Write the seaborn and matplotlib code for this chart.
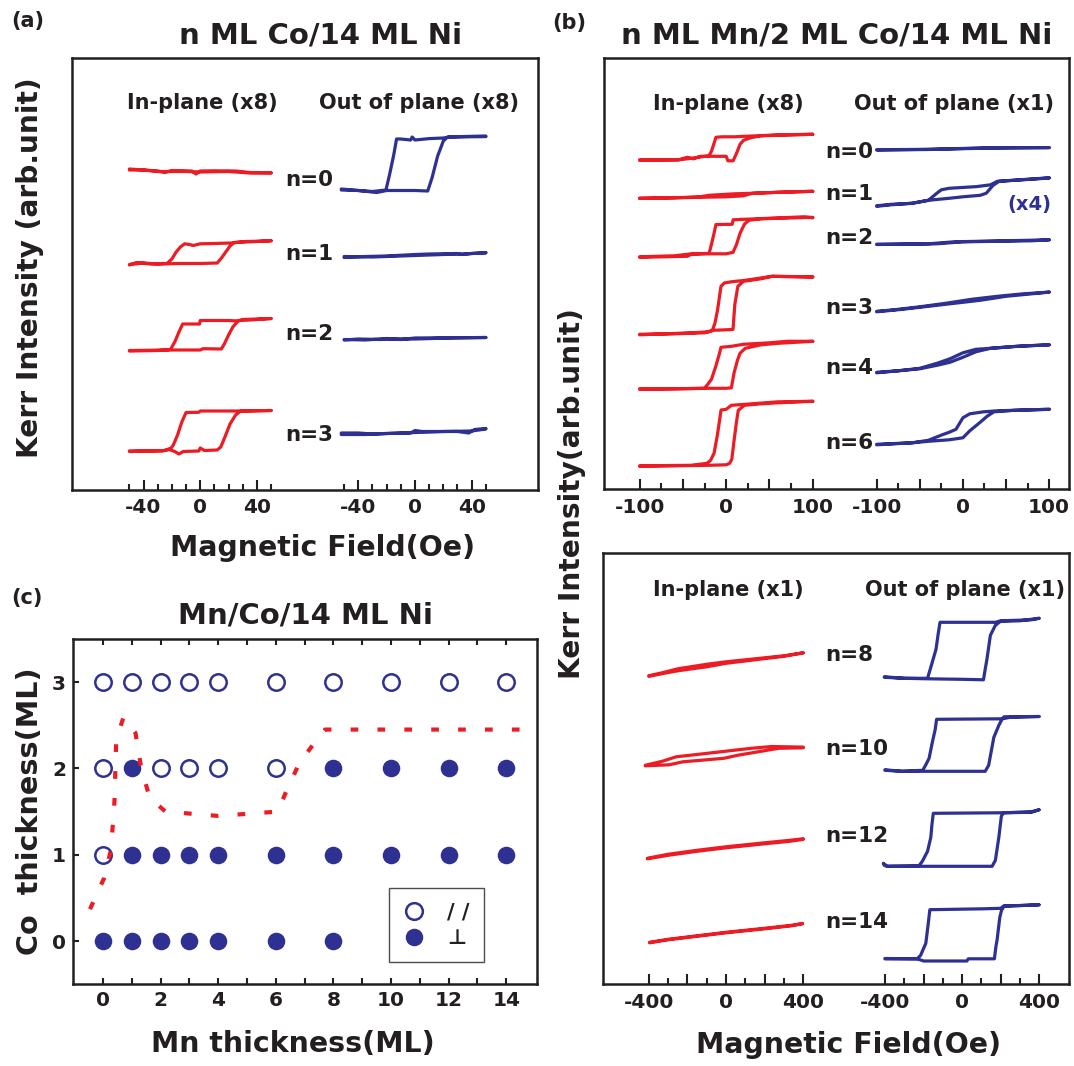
import matplotlib
matplotlib.use("Agg")
import matplotlib.pyplot as plt
import pandas as pd
import seaborn as sns
from matplotlib.lines import Line2D

sns.set_theme(style="white")
plt.rcParams["font.family"] = ["DejaVu Sans"]
plt.rcParams["font.weight"] = "bold"

RED = "#ED1C24"
BLUE = "#2E3192"
INK = "#231F20"

# ---------------- (a) n ML Co / 14 ML Ni : Kerr loops (field in Oe, Kerr in arb. units)
A_IN_N0 = [(50, 31.73), (35, 31.75), (25, 31.9), (10, 31.92), (0, 31.9), (-3, 31.6), (-6, 31.9),
           (-20, 31.95), (-25, 31.75), (-30, 31.9), (-45, 32.05), (-50, 32.1),
           (-50, 32.0), (-40, 32.0), (-30, 31.85), (-10, 31.85), (0, 31.8), (20, 31.85), (35, 31.7), (50, 31.7)]
A_IN_N1 = [(50, 24.9), (32, 24.85), (22, 24.7), (10, 24.65), (0, 24.62), (-5, 24.45), (-7.5, 24.55),
           (-11, 24.62), (-14, 24.3), (-17, 23.8), (-20, 23.1), (-23.5, 22.65), (-35, 22.6), (-45, 22.75), (-50, 22.5),
           (-50, 22.55), (-40, 22.7), (-30, 22.6), (-15, 22.65), (0, 22.65), (12, 22.7), (15, 23.2), (17.5, 23.7),
           (21, 24.4), (24, 24.75), (30, 24.8), (40, 24.85), (50, 24.95)]
A_IN_N2 = [(50, 17.15), (30, 17.05), (27, 16.9), (20, 16.95), (0, 16.95), (-0.5, 16.6), (-12.4, 16.6),
           (-15, 15.8), (-18, 14.8), (-21, 14.05), (-30, 13.95), (-50, 13.9),
           (-50, 13.95), (-20, 14.0), (0, 14.0), (2, 14.13), (14.9, 14.1), (17, 14.6), (20, 15.5), (23, 16.3),
           (27, 16.95), (35, 17.0), (50, 17.15)]
A_IN_N3 = [(50, 7.95), (30, 7.9), (0, 7.9), (-1, 7.77), (-10, 7.75), (-13, 6.8), (-16, 5.5), (-19, 4.5),
           (-20.5, 4.2), (-25, 3.95), (-50, 3.9),
           (-50, 3.85), (-27, 3.9), (-22, 4.05), (-18, 3.85), (-15, 3.6), (-12, 3.85), (-1, 3.9), (0, 4.2), (3, 3.95),
           (12, 4.0), (14.5, 4.3), (18, 5.5), (21, 6.6), (25, 7.5), (28.5, 7.9), (50, 7.95)]
A_OUT_N0 = [(50, 35.34), (25, 35.3), (20, 35.2), (10, 35.14), (0, 35.0), (-2, 35.3), (-3, 35.0), (-10, 35.1),
            (-13, 35.1), (-15, 33.5), (-18, 31.5), (-20.5, 30.0), (-30, 29.85), (-40, 29.95), (-52, 30.0),
            (-52, 30.1), (-40, 29.95), (-27, 29.75), (-20, 29.95), (0, 29.95), (9, 29.9), (12, 31.2), (16, 33.4),
            (20, 34.9), (23, 35.3), (35, 35.35), (50, 35.4)]
A_OUT_N1 = [(50, 23.7), (40, 23.65), (33, 23.55), (30, 23.65), (10, 23.6), (0, 23.55), (-20, 23.4), (-35, 23.35),
            (-50, 23.25), (-50, 23.35), (-30, 23.3), (-20, 23.35), (0, 23.45), (20, 23.55), (35, 23.6), (50, 23.75)]
A_OUT_N2 = [(50, 15.25), (30, 15.23), (0, 15.2), (-10, 15.05), (-20, 15.15), (-35, 15.0), (-50, 15.05),
            (-50, 15.0), (-40, 15.1), (-25, 15.05), (-15, 15.1), (0, 15.1), (25, 15.2), (50, 15.25)]
A_OUT_N3 = [(50, 6.15), (42, 6.05), (38, 5.7), (30, 5.85), (5, 5.85), (0, 5.95), (-3, 5.7), (-20, 5.65),
            (-35, 5.55), (-52, 5.55), (-52, 5.7), (-40, 5.7), (-30, 5.6), (-10, 5.7), (0, 5.75), (20, 5.85),
            (40, 5.9), (50, 6.1)]

# ---------------- (b) n ML Mn / 2 ML Co / 14 ML Ni, n = 0..6
B_IN_N0 = [(100, 35.5), (60, 35.45), (37, 35.35), (20, 35.3), (10, 35.25), (-5, 35.25), (-11.8, 35.2),
           (-14, 34.6), (-17, 33.8), (-20, 33.35), (-40, 33.1), (-55, 32.95), (-100, 32.9),
           (-100, 32.95), (-55, 32.95), (-45, 33.2), (-38, 33.05), (-30, 33.3), (0, 33.3), (2, 32.85), (8, 32.85),
           (12, 33.6), (16, 34.5), (20, 34.9), (28, 35.15), (40, 35.35), (100, 35.5)]
B_IN_N1 = [(100, 29.8), (60, 29.7), (30, 29.6), (10, 29.55), (-20, 29.4), (-30, 29.25), (-60, 29.15), (-100, 29.1),
           (-100, 29.1), (-60, 29.15), (-30, 29.2), (0, 29.25), (20, 29.35), (30, 29.6), (60, 29.7), (100, 29.8)]
B_IN_N2 = [(100, 27.15), (90, 27.25), (50, 27.1), (20, 27.0), (8, 26.95), (7, 26.5), (-11.8, 26.48),
           (-14, 25.6), (-17, 24.5), (-19.7, 23.6), (-40, 23.5), (-45, 23.3), (-100, 23.2),
           (-100, 23.25), (-60, 23.35), (-40, 23.55), (0, 23.55), (8, 23.7), (12, 24.5), (16, 25.6), (21, 26.5),
           (26, 26.9), (40, 27.05), (100, 27.2)]
B_IN_N3 = [(100, 21.22), (53, 21.3), (30, 21.0), (22, 20.9), (6, 20.75), (-2, 20.64), (-6, 20.3), (-10, 17.9),
           (-13, 16.6), (-16, 15.9), (-20, 15.75), (-40, 15.65), (-55, 15.6), (-100, 15.45),
           (-100, 15.5), (-60, 15.55), (-25, 15.65), (-15, 15.9), (0, 15.95), (7.9, 15.99), (10, 18.5),
           (13.5, 20.3), (20, 20.8), (40, 21.05), (53, 21.3), (100, 21.25)]
B_IN_N4 = [(100, 14.8), (70, 14.8), (50, 14.65), (20, 14.5), (6, 14.3), (-6, 14.2), (-8, 13.5), (-12, 12.3),
           (-17, 11.0), (-21.7, 10.45), (-25, 10.1), (-60, 10.05), (-100, 10.0),
           (-100, 10.05), (-60, 10.05), (-20, 10.1), (0, 10.1), (6, 10.15), (9, 11.6), (13, 12.9), (16, 13.6),
           (22, 14.1), (40, 14.45), (60, 14.6), (100, 14.8)]
B_IN_N6 = [(100, 8.8), (60, 8.75), (30, 8.55), (6, 8.4), (0, 8.0), (-5.9, 7.93), (-10, 5.5), (-14, 3.6),
           (-18, 2.9), (-22, 2.6), (-40, 2.4), (-100, 2.35),
           (-100, 2.3), (-60, 2.35), (-20, 2.4), (0, 2.45), (4, 2.6), (6.5, 3.0), (9, 4.8), (12, 6.8), (14, 7.9),
           (21, 8.4), (40, 8.55), (60, 8.65), (100, 8.8)]
B_OUT_N0 = [(100, 34.17), (30, 34.15), (-40, 34.0), (-100, 33.95),
            (-100, 33.93), (-40, 33.98), (30, 34.12), (100, 34.17)]
B_OUT_N1 = [(100, 31.13), (71, 30.96), (40, 30.8), (32, 30.45), (16, 30.27), (-16, 30.1), (-25, 29.95),
            (-31, 29.55), (-40, 28.9), (-59, 28.6), (-83, 28.45), (-100, 28.3),
            (-100, 28.35), (-83, 28.5), (-59, 28.6), (-40, 28.9), (-16, 29.1), (0, 29.25), (20, 29.4), (27, 29.6),
            (35, 30.4), (42, 30.8), (71, 30.98), (100, 31.15)]
B_OUT_N2 = [(100, 24.95), (75, 24.9), (-10, 24.75), (-40, 24.55), (-100, 24.5),
            (-100, 24.48), (-30, 24.55), (0, 24.75), (80, 24.85), (100, 24.95)]
B_OUT_N3 = [(100, 19.72), (70, 19.55), (40, 19.3), (10, 19.0), (-20, 18.6), (-50, 18.25), (-80, 17.95),
            (-100, 17.8), (-100, 17.75), (-70, 18.0), (-40, 18.3), (-10, 18.6), (20, 18.9), (50, 19.3),
            (80, 19.55), (100, 19.72)]
B_OUT_N4 = [(100, 14.45), (63, 14.3), (32, 14.1), (15, 14.0), (0, 13.65), (-15, 13.05), (-30, 12.6),
            (-50, 12.1), (-75, 11.85), (-100, 11.7),
            (-100, 11.65), (-75, 11.85), (-50, 12.05), (-30, 12.4), (-15, 12.7), (0, 13.2), (15, 13.75),
            (32, 14.1), (63, 14.3), (100, 14.45)]
B_OUT_N6 = [(100, 8.0), (40, 7.85), (24, 7.75), (8, 7.55), (0, 7.15), (-8, 6.0), (-16, 5.7), (-24, 5.45),
            (-40, 4.9), (-59, 4.65), (-100, 4.45),
            (-100, 4.5), (-59, 4.65), (-40, 4.8), (-16, 4.95), (0, 5.15), (8, 5.85), (20, 6.7), (28, 7.3),
            (36, 7.75), (60, 7.9), (100, 8.0)]

# ---------------- (b, lower) n = 8..14
C_IN_N8 = [(400, 33.15), (300, 32.85), (150, 32.55), (0, 32.25), (-100, 32.0), (-250, 31.55), (-320, 31.2),
           (-400, 30.85), (-400, 30.8), (-320, 31.1), (-250, 31.35), (-100, 31.75), (0, 32.1), (150, 32.45),
           (300, 32.8), (400, 33.15)]
C_IN_N10 = [(400, 23.72), (237, 23.78), (131, 23.6), (-28, 23.25), (-188, 22.9), (-258, 22.75), (-330, 22.3),
            (-418, 21.9), (-418, 21.85), (-294, 21.95), (-223, 22.25), (-11, 22.6), (60, 22.9), (166, 23.25),
            (273, 23.6), (400, 23.65)]
C_IN_N12 = [(400, 14.55), (330, 14.4), (200, 14.15), (100, 13.95), (0, 13.75), (-150, 13.4), (-300, 13.0),
            (-407, 12.6), (-407, 12.55), (-300, 12.9), (-150, 13.3), (0, 13.65), (100, 13.85), (200, 14.05),
            (330, 14.3), (400, 14.5)]
C_IN_N14 = [(396, 6.08), (340, 5.9), (200, 5.6), (100, 5.4), (0, 5.2), (-150, 4.85), (-300, 4.5), (-396, 4.2),
            (-396, 4.15), (-300, 4.45), (-150, 4.8), (0, 5.15), (100, 5.35), (200, 5.55), (340, 5.85), (396, 6.05)]
C_OUT_N8 = [(400, 36.6), (360, 36.45), (200, 36.35), (173, 36.2), (0, 36.2), (-115, 36.2), (-125, 35.0),
            (-136, 33.5), (-160, 31.9), (-180, 30.6), (-300, 30.6), (-405, 30.75),
            (-405, 30.7), (-300, 30.6), (-180, 30.55), (0, 30.5), (111, 30.45), (120, 31.5), (129, 32.5),
            (147, 34.9), (173, 35.9), (200, 36.3), (300, 36.35), (400, 36.6)]
C_OUT_N10 = [(400, 26.78), (218, 26.75), (209, 26.55), (-133, 26.5), (-140, 25.5), (-154, 24.3), (-172, 22.6),
             (-189, 21.95), (-205, 21.4), (-313, 21.3), (-402, 21.4),
             (-402, 21.45), (-313, 21.3), (-216, 21.3), (0, 21.3), (120, 21.3), (138, 21.9), (165, 24.7),
             (191, 25.9), (209, 26.55), (250, 26.7), (400, 26.78)]
C_OUT_N12 = [(400, 17.45), (360, 17.2), (191, 17.15), (-150, 17.1), (-157, 16.0), (-163, 14.7), (-180, 13.3),
             (-207, 12.3), (-225, 11.85), (-390, 11.8), (-410, 12.1),
             (-405, 11.9), (-390, 11.8), (-225, 11.8), (0, 11.8), (156, 11.8), (173, 12.4), (191, 14.7),
             (204, 16.8), (215, 17.15), (360, 17.25), (400, 17.45)]
C_OUT_N14 = [(400, 7.95), (300, 7.87), (218, 7.85), (200, 7.6), (111, 7.55), (-168, 7.46), (-178, 5.8),
             (-189, 4.1), (-216, 2.9), (-234, 2.55), (-320, 2.55), (-402, 2.55),
             (-402, 2.58), (-234, 2.55), (-200, 2.33), (25, 2.33), (32, 2.55), (168, 2.55), (176, 3.8),
             (182, 4.45), (196, 6.7), (205, 7.4), (218, 7.8), (300, 7.88), (400, 7.95)]

# ---------------- (c) phase diagram Mn/Co/14 ML Ni
PAR_MN = [0, 1, 2, 3, 4, 6, 8, 10, 12, 14, 0, 2, 3, 4, 6, 0]
PAR_CO = [3, 3, 3, 3, 3, 3, 3, 3, 3, 3, 2, 2, 2, 2, 2, 1]
PERP_MN = [1, 8, 10, 12, 14, 1, 2, 3, 4, 6, 8, 10, 12, 14, 0, 1, 2, 3, 4, 6, 8]
PERP_CO = [2, 2, 2, 2, 2, 1, 1, 1, 1, 1, 1, 1, 1, 1, 0, 0, 0, 0, 0, 0, 0]
BOUND_MN = [-0.45, 0.04, 0.28, 0.40, 0.46, 0.71, 1.13, 1.32, 1.62, 2.17, 4.0, 6.07, 6.37, 6.80, 7.41, 7.71, 14.7]
BOUND_CO = [0.37, 0.73, 1.06, 1.62, 2.33, 2.59, 2.41, 2.02, 1.66, 1.50, 1.45, 1.50, 1.74, 2.05, 2.33, 2.45, 2.45]

W, H = 1074, 1066
fig = plt.figure(figsize=(W / 100, H / 100), dpi=100)
fig.patch.set_facecolor("white")


def box(l, t, r, b):
    return [l / W, 1 - b / H, (r - l) / W, (b - t) / H]


def put(x, y, s, size, **kw):
    kw.setdefault("ha", "center")
    kw.setdefault("va", "center")
    kw.setdefault("color", INK)
    fig.text(x / W, 1 - y / H, s, fontsize=size, fontweight="bold", **kw)


def loop_panel(rect, ymax, groups):
    frame = fig.add_axes(rect)
    frame.set_xlim(0, 1)
    frame.set_ylim(0, ymax)
    frame.set_xticks([])
    frame.set_yticks([])
    for sp in frame.spines.values():
        sp.set_visible(True)
        sp.set_linewidth(1.8)
        sp.set_color(INK)
    for xlim, major, labels, minor, loops, color in groups:
        ax = fig.add_axes(rect)
        ax.patch.set_alpha(0)
        for sp in ax.spines.values():
            sp.set_visible(False)
        for pts in loops:
            df = pd.DataFrame(pts, columns=["field", "kerr"])
            sns.lineplot(data=df, x="field", y="kerr", sort=False, estimator=None,
                         color=color, lw=2.3, ax=ax)
        ax.set_xlim(*xlim)
        ax.set_ylim(0, ymax)
        ax.set_yticks([])
        ax.set_xticks(major)
        ax.set_xticklabels(labels)
        ax.set_xticks(minor, minor=True)
        ax.tick_params(axis="x", which="both", direction="in", bottom=True, width=1.5,
                       color=INK, labelsize=14.5, labelcolor=INK, pad=6)
        ax.tick_params(axis="x", which="major", length=7)
        ax.tick_params(axis="x", which="minor", length=4)
        ax.set_xlabel("")
        ax.set_ylabel("")


# (a)
loop_panel(box(72, 58.3, 538, 490), 43.17, [
    ((-90.5, 238.4), [-40, 0, 40], ["-40", "0", "40"], [-50, -30, -20, -10, 10, 20, 30, 50],
     [A_IN_N0, A_IN_N1, A_IN_N2, A_IN_N3], RED),
    ((-242.0, 86.8), [-40, 0, 40], ["-40", "0", "40"], [-50, -30, -20, -10, 10, 20, 30, 50],
     [A_OUT_N0, A_OUT_N1, A_OUT_N2, A_OUT_N3], BLUE),
])

# (b) upper
loop_panel(box(603.8, 58.3, 1068.6, 489.3), 43.1, [
    ((-141.3, 395.4), [-100, -50, 0, 50, 100], ["-100", "", "0", "", "100"], [-75, -25, 25, 75],
     [B_IN_N0, B_IN_N1, B_IN_N2, B_IN_N3, B_IN_N4, B_IN_N6], RED),
    ((-416.1, 122.5), [-100, -50, 0, 50, 100], ["-100", "", "0", "", "100"], [-75, -25, 25, 75],
     [B_OUT_N0, B_OUT_N1, B_OUT_N2, B_OUT_N3, B_OUT_N4, B_OUT_N6], BLUE),
])

# (b) lower
loop_panel(box(603.3, 553.3, 1069, 984.3), 43.1, [
    ((-635.1, 1776.5), [-400, -200, 0, 200, 400], ["-400", "", "0", "", "400"], [-300, -100, 100, 300],
     [C_IN_N8, C_IN_N10, C_IN_N12, C_IN_N14], RED),
    ((-1867.2, 556.1), [-400, -200, 0, 200, 400], ["-400", "", "0", "", "400"], [-300, -100, 100, 300],
     [C_OUT_N8, C_OUT_N10, C_OUT_N12, C_OUT_N14], BLUE),
])

# (c)
axc = fig.add_axes(box(73, 638.9, 536.5, 984.3))
sns.scatterplot(x=PERP_MN, y=PERP_CO, s=160, color=BLUE, edgecolor=BLUE, linewidth=0, ax=axc, zorder=3)
sns.scatterplot(x=PAR_MN, y=PAR_CO, s=140, color="white", ax=axc, zorder=3)
opened = axc.collections[-1]
opened.set_facecolor("white")
opened.set_edgecolor(BLUE)
opened.set_linewidth(1.8)
sns.lineplot(x=BOUND_MN, y=BOUND_CO, sort=False, estimator=None, color=RED, lw=3, ax=axc, zorder=4)
axc.lines[-1].set_linestyle((0, (1.85, 4.6)))
axc.set_xlim(-1.04, 15.05)
axc.set_ylim(-0.5, 3.5)
axc.set_xticks(range(0, 15, 2))
axc.set_xticks(range(1, 15, 2), minor=True)
axc.set_yticks([0, 1, 2, 3])
axc.tick_params(axis="both", which="both", direction="in", length=4.5, width=1.5, color=INK,
                labelsize=14.5, labelcolor=INK, bottom=True, top=True, left=True, pad=5)
for sp in axc.spines.values():
    sp.set_visible(True)
    sp.set_linewidth(1.8)
    sp.set_color(INK)
axc.set_xlabel("")
axc.set_ylabel("")
handles = [Line2D([], [], ls="", marker="o", ms=12, mfc="white", mec=BLUE, mew=1.8),
           Line2D([], [], ls="", marker="o", ms=12.6, mfc=BLUE, mec=BLUE, mew=0)]
leg = axc.legend(handles, ["/ /", "\u22a5"], loc="upper left", bbox_to_anchor=(0.681, 0.2785),
                 borderaxespad=0, fontsize=15, frameon=True, fancybox=False, handlelength=1.0,
                 handletextpad=1.1, labelspacing=0.25, borderpad=0.7)
leg.get_frame().set_edgecolor(INK)
leg.get_frame().set_linewidth(1.0)
for t in leg.get_texts():
    t.set_color(INK)

# panel letters and titles
put(28, 21, "(a)", 15)
put(569, 23, "(b)", 15)
put(27, 598, "(c)", 15)
put(321, 35, "n ML Co/14 ML Ni", 21)
put(837, 35, "n ML Mn/2 ML Co/14 ML Ni", 21)
put(306, 615, "Mn/Co/14 ML Ni", 21)

# column headers
put(202, 103, "In-plane (x8)", 15)
put(419, 103, "Out of plane (x8)", 15)
put(728.6, 104, "In-plane (x8)", 15)
put(953.7, 104, "Out of plane (x1)", 15)
put(728.7, 590.4, "In-plane (x1)", 15)
put(965, 590.4, "Out of plane (x1)", 15)

# thickness labels
for lab, y in [("n=0", 179.6), ("n=1", 253.5), ("n=2", 334.3), ("n=3", 434.7)]:
    put(284.8, y, lab, 15.5, ha="left")
for lab, y in [("n=0", 152.2), ("n=1", 193.5), ("n=2", 238.2), ("n=3", 308.0), ("n=4", 368.2), ("n=6", 442.9)]:
    put(824.8, y, lab, 15.5, ha="left")
for lab, y in [("n=8", 655.2), ("n=10", 749.3), ("n=12", 835.5), ("n=14", 922.0)]:
    put(825.5, y, lab, 15.5, ha="left")
put(1029.4, 204.8, "(x4)", 14, color=BLUE)

# axis titles
put(323, 548, "Magnetic Field(Oe)", 20.4)
put(849, 1045, "Magnetic Field(Oe)", 20.4)
put(293, 1044.4, "Mn thickness(ML)", 20.4)
put(29.8, 268, "Kerr Intensity (arb.unit)", 20.2, rotation=90)
put(572.4, 493.5, "Kerr Intensity(arb.unit)", 20.2, rotation=90)
put(30, 811.6, "Co  thickness(ML)", 20.6, rotation=90)

fig.savefig("out.png", dpi=100, facecolor="white")
